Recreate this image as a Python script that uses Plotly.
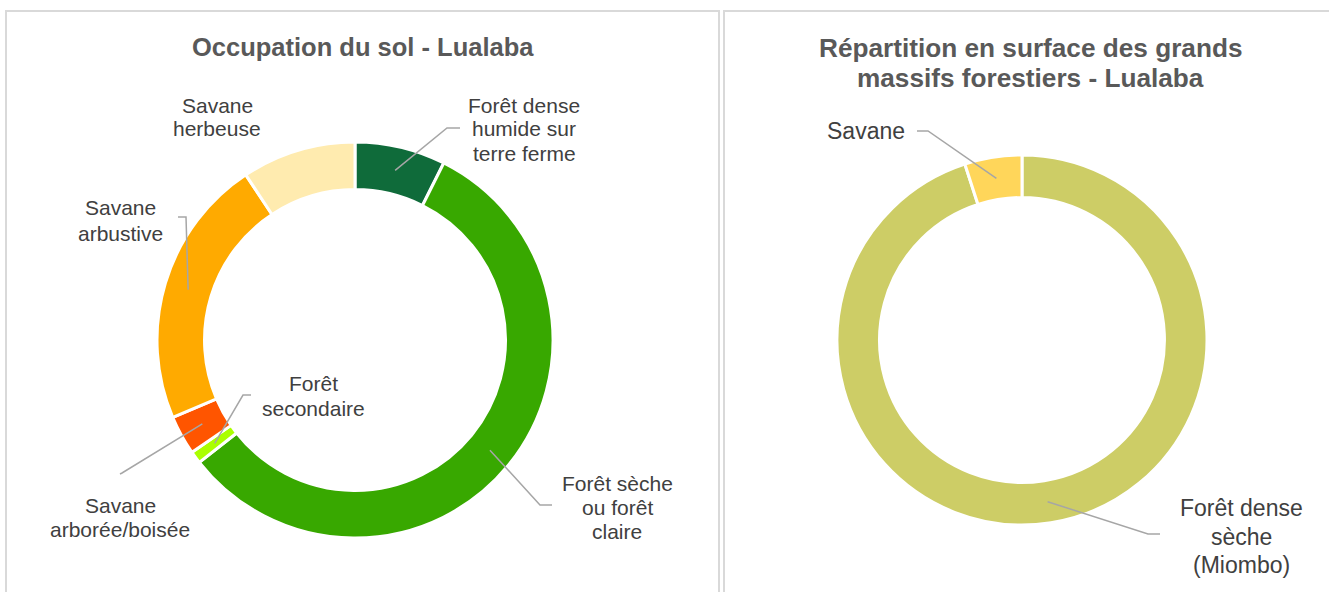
import math
import plotly.graph_objects as go

W, H = 1329, 592

# ---- data ----
left_title = ["Occupation du sol - Lualaba"]
left_labels = ["Forêt dense humide sur terre ferme", "Forêt sèche ou forêt claire",
               "Forêt secondaire", "Savane arborée/boisée", "Savane arbustive", "Savane herbeuse"]
left_values = [7.4, 57.0, 1.0, 3.2, 22.1, 9.3]
left_colors = ["#0F6B3A", "#38A800", "#AAFF00", "#FF5500", "#FFAA00", "#FFEBAF"]

right_title = ["Répartition en surface des grands", "massifs forestiers - Lualaba"]
right_labels = ["Forêt dense sèche (Miombo)", "Savane"]
right_values = [95.0, 5.0]
right_colors = ["#CDCD66", "#FFD65A"]

# ---- layout helpers (pixel geometry) ----
def px(x, y):
    return x / W, 1 - y / H

pies = [
    dict(cx=355, cy=340, R=198, hole=0.76, labels=left_labels, values=left_values, colors=left_colors),
    dict(cx=1022, cy=340, R=185, hole=0.77, labels=right_labels, values=right_values, colors=right_colors),
]

fig = go.Figure()
for p in pies:
    x0, y1 = px(p["cx"] - p["R"], p["cy"] - p["R"])
    x1, y0 = px(p["cx"] + p["R"], p["cy"] + p["R"])
    fig.add_trace(go.Pie(
        labels=p["labels"], values=p["values"], hole=p["hole"],
        marker=dict(colors=p["colors"], line=dict(color="white", width=3)),
        sort=False, direction="clockwise", rotation=0,
        textinfo="none", showlegend=False,
        domain=dict(x=[x0, x1], y=[y0, y1]),
    ))

def anchor(p, idx):
    vals = p["values"]
    tot = sum(vals)
    start = sum(vals[:idx]) / tot * 360
    mid = start + vals[idx] / tot * 180
    r = p["R"] * (1 + p["hole"]) / 2
    th = math.radians(mid)
    return p["cx"] + r * math.sin(th), p["cy"] - r * math.cos(th)

# label placements: (pie, index, text lines, text x, line ys, elbow, end)
label_specs = [
    (0, 0, ["Forêt dense", "humide sur", "terre ferme"], 524, [105, 129, 154], (447, 128), (460, 128)),
    (0, 1, ["Forêt sèche", "ou forêt", "claire"], 617, [483, 507, 531], (540, 505), (552, 505)),
    (0, 2, ["Forêt", "secondaire"], 313, [383, 408], (243, 395), (251, 395)),
    (0, 3, ["Savane", "arborée/boisée"], 120, [505, 529], (122, 473), (120, 474)),
    (0, 4, ["Savane", "arbustive"], 120, [208, 233], (186, 217), (178, 217)),
    (0, 5, ["Savane", "herbeuse"], 217, [105, 129], None, None),
    (1, 1, ["Savane"], 866, [131], (928, 131), (917, 131)),
    (1, 0, ["Forêt dense", "sèche", "(Miombo)"], 1241, [508, 537, 565], (1148, 534), (1160, 534)),
]

shapes = []
annotations = []
FONT = "Liberation Sans, Arial, sans-serif"
for pi, idx, lines, tx, tys, elbow, end in label_specs:
    size = 21 if pi == 0 else 23
    for line, ty in zip(lines, tys):
        ax, ay = px(tx, ty)
        annotations.append(dict(x=ax, y=ay, xref="paper", yref="paper", text=line,
                                showarrow=False, xanchor="center", yanchor="middle",
                                font=dict(family=FONT, size=size, color="#404040")))
    if elbow is not None:
        a = px(*anchor(pies[pi], idx))
        e = px(*elbow)
        f = px(*end)
        shapes.append(dict(type="path", xref="paper", yref="paper",
                           path=f"M {a[0]} {a[1]} L {e[0]} {e[1]} L {f[0]} {f[1]}",
                           line=dict(color="#A6A6A6", width=1.5)))

# titles
for lines, cx, ys, size in [(left_title, 363, [47], 25.5), (right_title, 1030, [48, 78], 26.2)]:
    for line, cy in zip(lines, ys):
        ax, ay = px(cx, cy)
        annotations.append(dict(x=ax, y=ay, xref="paper", yref="paper", text=f"<b>{line}</b>",
                                showarrow=False, xanchor="center", yanchor="middle",
                                font=dict(family=FONT, size=size, color="#595959")))

# panel borders
for x0p, x1p in [(6, 719), (724, 1340)]:
    a = px(x0p, 11)
    b = px(x1p, 610)
    shapes.append(dict(type="rect", xref="paper", yref="paper", x0=a[0], x1=b[0], y0=b[1], y1=a[1],
                       line=dict(color="#D9D9D9", width=2), fillcolor="rgba(0,0,0,0)", layer="below"))

fig.update_layout(width=W, height=H, autosize=False,
                  margin=dict(l=0, r=0, t=0, b=0),
                  paper_bgcolor="white", plot_bgcolor="white",
                  shapes=shapes, annotations=annotations, showlegend=False)

fig.write_html("out.html", config={"displayModeBar": False},
               post_script="document.body.style.margin='0';document.body.style.overflow='hidden';")
